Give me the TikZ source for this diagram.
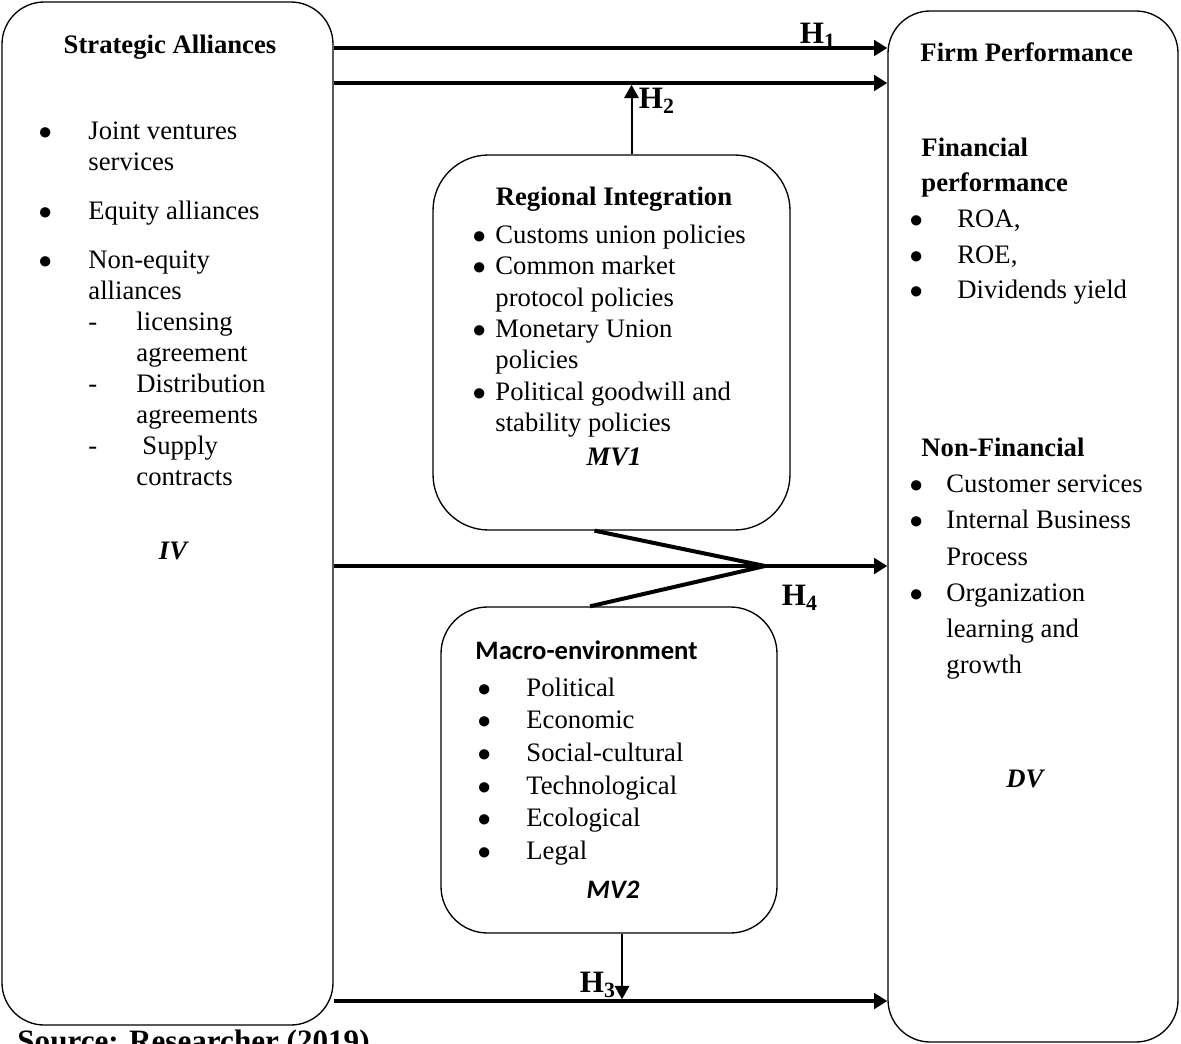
\documentclass[tikz,border=0pt]{standalone}
\usepackage{fontspec}
\setmainfont{Liberation Serif}
\newfontfamily\calibri{Carlito}
\usetikzlibrary{positioning, fit, calc, arrows.meta}
\tikzset{
	panel/.style= {
		draw,
		line width=0.6pt,
		inner sep=0,
		rounded corners=19pt
	},
	hub/.style= {
		panel,
		rounded corners=25pt
	},
	txt/.style= {
		anchor=north west,
		inner sep=0,
		align=left,
		font=\fontsize{12}{13.95}\selectfont
	},
	head/.style= {inner sep=0, font=\fontsize{12}{14}\selectfont\bfseries},
	tag/.style= {inner sep=0, anchor=base, font=\fontsize{12}{14}\selectfont\bfseries\itshape},
	hlabel/.style= {inner sep=0, font=\fontsize{14}{16}\selectfont\bfseries},
	hyp/.style= {line width=1.8pt, -{Triangle[length=6pt,width=7pt]}},
	link/.style= {line width=0.9pt, shorten >=0.8pt, -{Triangle[length=6pt,width=6.5pt]}},
	zig/.style= {line width=1.8pt},
}
\newcommand{\bul}[1][21.6pt]{\makebox[#1][l]{\hspace*{-0.8pt}$\bullet$}}
\newcommand{\cont}[1][21.6pt]{\hspace*{#1}}

\begin{document}
\begin{tikzpicture}[x=0.45pt, y=-0.45pt]
	\useasboundingbox (0,0) rectangle (1181,1044);

	% the four boxes
	\node (sa) [panel, fit={(2,2) (333,1025)}] {};
	\node (fp) [panel, fit={(888,11) (1178,1042)}] {};
	\node (ri) [hub, fit={(433,155) (790,530)}] {};
	\node (me) [hub, rounded corners=21pt, fit={(441,607) (777,933)}] {};

	% independent variable
	\node (satitle) [head, anchor=base] at (170,54) {Strategic Alliances};
	\node (salist) [txt] at (40,117.3) {\strut\bul Joint ventures\\
		\cont services\\[8.1pt]
		\bul Equity alliances\\[8.1pt]
		\bul Non-equity\\
		\cont alliances\\
		\cont\makebox[21.6pt][l]{-}licensing\\
		\cont\cont agreement\\
		\cont\makebox[21.6pt][l]{-}Distribution\\
		\cont\cont agreements\\
		\cont\makebox[21.6pt][l]{-}\hspace*{2.7pt}Supply\\
		\cont\cont contracts};
	\node (iv) [tag] at (173,559) {IV};

	% moderator 1
	\node (rititle) [head, anchor=base] at (614,206) {Regional Integration};
	\node (rilist) [txt, font=\fontsize{12}{14.1}\selectfont] at (474,221) {\strut\bul[9.45pt]Customs union policies\\
		\bul[9.45pt]Common market\\
		\cont[9.45pt]protocol policies\\
		\bul[9.45pt]Monetary Union\\
		\cont[9.45pt]policies\\
		\bul[9.45pt]Political goodwill and\\
		\cont[9.45pt]stability policies};
	\node (mv1) [tag] at (614,465) {MV1};

	% moderator 2
	\node (metitle) [head, anchor=base west, font=\fontsize{12}{14}\calibri\bfseries] at (475,659) {Macro-environment};
	\node (melist) [txt, font=\fontsize{12}{14.67}\selectfont] at (479,673) {\strut\bul[21.15pt]Political\\
		\bul[21.15pt]Economic\\
		\bul[21.15pt]Social-cultural\\
		\bul[21.15pt]Technological\\
		\bul[21.15pt]Ecological\\
		\bul[21.15pt]Legal};
	\node (mv2) [tag, font=\fontsize{12}{14}\calibri\bfseries\itshape] at (613,898) {MV2};

	% dependent variable
	\node (fptitle) [head, anchor=base west] at (920,62) {Firm Performance};
	\node (finlist) [txt, font=\fontsize{12}{16}\selectfont] at (911,131) {\strut\cont[4.5pt]\textbf{Financial}\\
		\cont[4.5pt]\textbf{performance}\\
		\bul[20.7pt]ROA,\\
		\bul[20.7pt]ROE,\\
		\bul[20.7pt]Dividends yield};
	\node (nflist) [txt, font=\fontsize{12}{16.3}\selectfont] at (911,430.6) {\strut\cont[4.5pt]\textbf{Non-Financial}\\
		\bul[15.75pt]Customer services\\
		\bul[15.75pt]Internal Business\\
		\cont[15.75pt]Process\\
		\bul[15.75pt]Organization\\
		\cont[15.75pt]learning and\\
		\cont[15.75pt]growth};
	\node (dv) [tag] at (1025,787) {DV};

	% hypotheses
	\coordinate (rowA) at (0,48);
	\coordinate (rowB) at (0,83);
	\coordinate (rowC) at (0,566);
	\coordinate (rowD) at (0,1001);
	\coordinate (join) at (765,566);
	\coordinate (h2foot) at ($(ri.north)+(20,0)$);
	\coordinate (h3top) at ($(me.south)+(13,0)$);

	\draw[hyp] (sa.east |- rowA) to (fp.west |- rowA);
	\draw[hyp] (sa.east |- rowB) to (fp.west |- rowB);
	\draw[hyp] (sa.east |- rowC) to (fp.west |- rowC);
	\draw[hyp] (sa.east |- rowD) to (fp.west |- rowD);
	\draw[link] (h2foot) to (h2foot |- rowB);
	\draw[link] (h3top) to (h3top |- rowD);
	\draw[zig] ($(ri.south)+(-17,0)$) -- (join) -- ($(me.north)+(-19,0)$);

	\node (h1) [hlabel] at (818,36) {H\textsubscript{1}};
	\node (h2) [hlabel] at (657,101) {H\textsubscript{2}};
	\node (h3) [hlabel] at (598,985) {H\textsubscript{3}};
	\node (h4) [hlabel] at (800,598) {H\textsubscript{4}};

	\node (source) [hlabel, anchor=base west] at (17,1051) {Source: Researcher (2019)};
\end{tikzpicture}
\end{document}
